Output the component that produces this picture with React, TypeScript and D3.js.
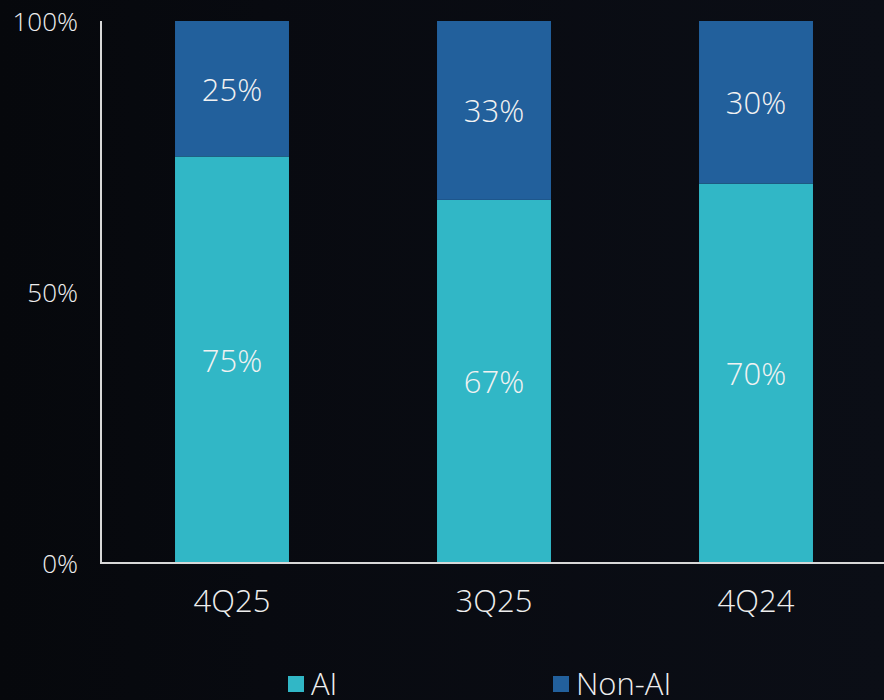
import React from "react";
import * as d3 from "d3";

const categories = ["4Q25", "3Q25", "4Q24"];
const aiValues = [75, 67, 70];
const nonAiValues = [25, 33, 30];
const yTicks = [0, 50, 100];
const seriesNames = ["AI", "Non-AI"];

const W = 884;
const H = 700;
const colors = ["#31b7c6", "#22609c"];
const FONT = "'Open Sans', 'Noto Sans', sans-serif";

export default function App() {
  const x = d3
    .scaleBand<string>()
    .domain(categories)
    .range([101, 887])
    .paddingInner(0.565)
    .paddingOuter(0.2825);
  const y = d3.scaleLinear().domain([0, 100]).range([563, 21]);

  const rows = categories.map((c, i) => ({ cat: c, AI: aiValues[i], "Non-AI": nonAiValues[i] }));
  const stacked = d3.stack<any>().keys(seriesNames)(rows);

  return (
    <div style={{ position: "fixed", left: 0, top: 0, width: W, height: H }}>
      <svg width={W} height={H} style={{ display: "block" }} fontFamily={FONT} fontWeight={300}>
        <defs>
          <linearGradient id="bg" x1="0" x2="1" y1="0" y2="0">
            <stop offset="0" stopColor="#06080c" />
            <stop offset="0.3" stopColor="#080a10" />
            <stop offset="1" stopColor="#0b0e16" />
          </linearGradient>
        </defs>
        <rect width={W} height={H} fill="url(#bg)" />
        {stacked.map((s, si) => (
          <g key={s.key} fill={colors[si]}>
            {s.map((d, i) => (
              <rect
                key={i}
                x={x(categories[i])}
                y={y(d[1])}
                width={x.bandwidth()}
                height={y(d[0]) - y(d[1])}
              />
            ))}
          </g>
        ))}
        {stacked.map((s) =>
          s.map((d, i) => (
            <text
              key={s.key + i}
              x={(x(categories[i]) as number) + x.bandwidth() / 2}
              y={(y(d[0]) + y(d[1])) / 2}
              textAnchor="middle"
              dominantBaseline="central"
              fill="#f2f2f2"
              fontSize={31}
            >
              {Math.round(d[1] - d[0])}%
            </text>
          ))
        )}
        <line x1={101} x2={101} y1={21} y2={564} stroke="#d8d8d8" strokeWidth={2} />
        <line x1={100} x2={884} y1={563} y2={563} stroke="#d8d8d8" strokeWidth={2} />
        {yTicks.map((t) => (
          <text
            key={t}
            x={78}
            y={y(t)}
            textAnchor="end"
            dominantBaseline="central"
            fill="#eeeeee"
            fontSize={26}
          >
            {t}%
          </text>
        ))}
        {categories.map((c) => (
          <text
            key={c}
            x={(x(c) as number) + x.bandwidth() / 2}
            y={600}
            textAnchor="middle"
            dominantBaseline="central"
            fill="#eeeeee"
            fontSize={31}
          >
            {c}
          </text>
        ))}
        {seriesNames.map((n, i) => {
          const lx = [288, 553][i];
          return (
            <g key={n}>
              <rect x={lx} y={676} width={16} height={16} fill={colors[i]} />
              <text x={lx + 23} y={683} dominantBaseline="central" fill="#eeeeee" fontSize={31}>
                {n}
              </text>
            </g>
          );
        })}
      </svg>
    </div>
  );
}
